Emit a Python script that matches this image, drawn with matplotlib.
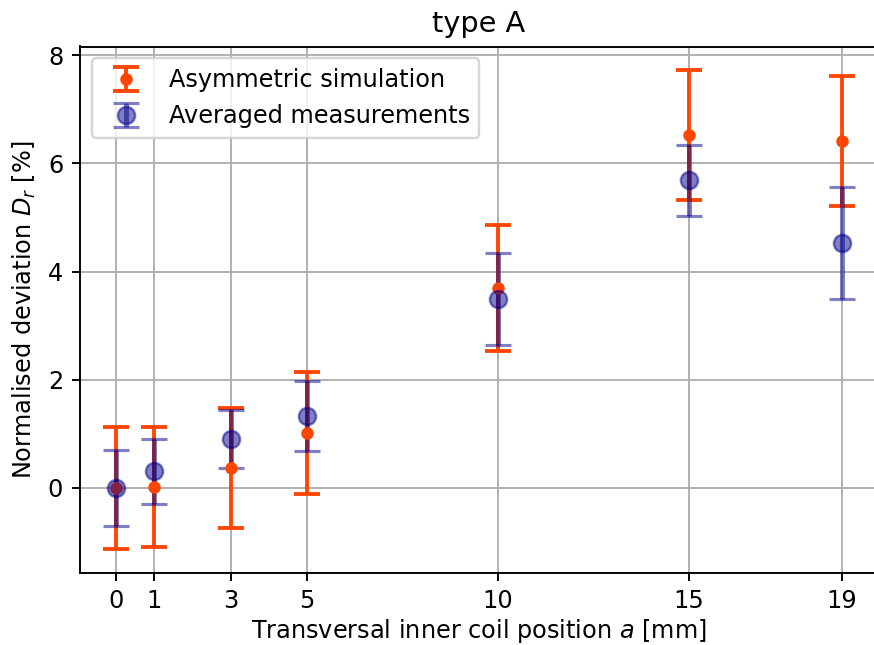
import numpy as np
import matplotlib
matplotlib.use("Agg")
import matplotlib.pyplot as plt

# positions of the inner coil [mm]
positions = [0, 1, 3, 5, 10, 15, 19]

# asymmetric simulation
sim_val = [0.0, 0.02, 0.37, 1.01, 3.70, 6.52, 6.41]
sim_err = [1.13, 1.11, 1.11, 1.13, 1.17, 1.20, 1.20]

# averaged measurements
meas_val = [0.0, 0.31, 0.90, 1.33, 3.50, 5.69, 4.53]
meas_err = [0.71, 0.60, 0.54, 0.64, 0.85, 0.66, 1.04]

W, H, DPI = 874, 645, 172.5
fig = plt.figure(figsize=(W/DPI, H/DPI), dpi=DPI)
ax = fig.add_axes([80/W, (H-573)/H, (878-80)/W, (573-46.5)/H])

ax.errorbar(positions, sim_val, yerr=sim_err, fmt="o", ms=4.2,
            color="orangered", elinewidth=1.6, capsize=5.4, capthick=1.6,
            label="Asymmetric simulation")
ax.errorbar(positions, meas_val, yerr=meas_err, fmt="o", ms=7.2,
            color="darkblue", alpha=0.5, elinewidth=2.1, capsize=5.4, capthick=1.3,
            label="Averaged measurements")

ax.set_xticks(positions)
ax.tick_params(axis="x", pad=3)
ax.grid(True)
ax.set_axisbelow(True)
ax.set_title("type A")
ax.set_xlabel("Transversal inner coil position $a$ [mm]", labelpad=2)
ax.set_ylabel("Normalised deviation $D_r$ [%]")
ax.legend(loc="upper left")

fig.savefig("out.png", dpi=DPI)
